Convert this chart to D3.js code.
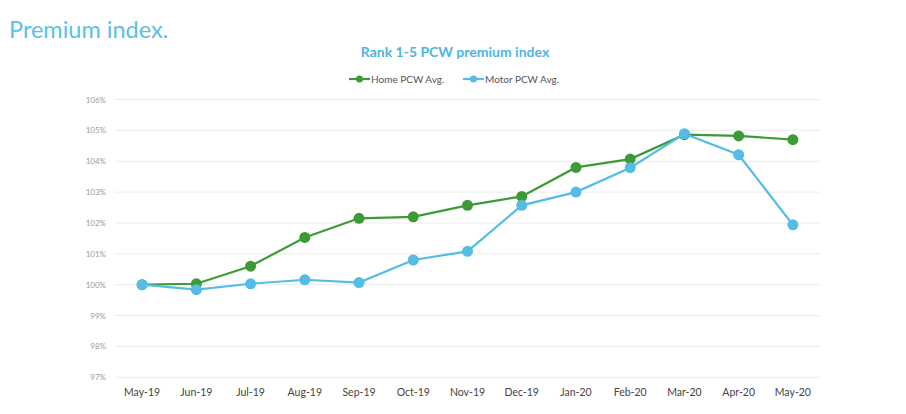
<!DOCTYPE html>
<html><head><meta charset="utf-8">
<script src="https://cdn.jsdelivr.net/npm/d3@7"></script>
<style>body{margin:0;background:#fff;font-family:Lato,"Open Sans",sans-serif;}</style>
</head><body><svg id="c" width="906" height="414"></svg>
<script>
const categories = ["May-19","Jun-19","Jul-19","Aug-19","Sep-19","Oct-19","Nov-19","Dec-19","Jan-20","Feb-20","Mar-20","Apr-20","May-20"];
const homeValues = [100.0,100.03,100.6,101.53,102.15,102.2,102.57,102.86,103.8,104.07,104.86,104.82,104.7];
const motorValues = [100.0,99.84,100.03,100.16,100.07,100.8,101.08,102.57,103.0,103.79,104.89,104.21,101.94];
const yTicks = [97,98,99,100,101,102,103,104,105,106];
const seriesNames = ["Home PCW Avg.","Motor PCW Avg."];
const colors = ["#3d9b35","#55bce6"];

(function(){
const svg = d3.select("#c");
const pLeft = 115, pRight = 820, pTop = 99.5, pBottom = 377.3;
const x = d3.scalePoint().domain(categories).range([pLeft, pRight]).padding(0.5);
const y = d3.scaleLinear().domain([97,106]).range([pBottom, pTop]);

svg.append("text").attr("x",9).attr("y",38).attr("fill","#5bbfe6")
  .attr("font-size",23.5).attr("font-family","Lato, sans-serif").text("Premium index.");
svg.append("text").attr("x",455).attr("y",57).attr("text-anchor","middle").attr("fill","#4fb4e2")
  .attr("font-size",14).attr("font-weight","bold").text("Rank 1-5 PCW premium index");

svg.append("g").selectAll("line").data(yTicks).join("line")
  .attr("x1",pLeft).attr("x2",pRight).attr("y1",d=>y(d)).attr("y2",d=>y(d))
  .attr("stroke","#ececec").attr("stroke-width",1);
svg.append("g").selectAll("text").data(yTicks).join("text")
  .attr("x",106).attr("y",d=>y(d)+3).attr("text-anchor","end").attr("fill","#9a9a9a")
  .attr("font-size",8).text(d=>d+"%");
svg.append("g").selectAll("text").data(categories).join("text")
  .attr("x",d=>x(d)).attr("y",396).attr("text-anchor","middle").attr("fill","#444")
  .attr("font-size",10.5).text(d=>d);

const line = d3.line().x((d,i)=>x(categories[i])).y(d=>y(d));
[homeValues, motorValues].forEach((vals,k)=>{
  const g = svg.append("g");
  g.append("path").datum(vals).attr("d",line).attr("fill","none")
    .attr("stroke",colors[k]).attr("stroke-width",2.2);
  g.selectAll("circle").data(vals).join("circle")
    .attr("cx",(d,i)=>x(categories[i])).attr("cy",d=>y(d)).attr("r",5.5).attr("fill",colors[k]);
});

const lg = svg.append("g");
const lx = [349, 463];
seriesNames.forEach((n,k)=>{
  lg.append("line").attr("x1",lx[k]).attr("x2",lx[k]+21).attr("y1",79).attr("y2",79)
    .attr("stroke",colors[k]).attr("stroke-width",2.2);
  lg.append("circle").attr("cx",lx[k]+10.5).attr("cy",79).attr("r",3.5).attr("fill",colors[k]);
  lg.append("text").attr("x",lx[k]+22).attr("y",82.5).attr("fill","#555").attr("font-size",10).text(n);
});
})();
</script></body></html>
